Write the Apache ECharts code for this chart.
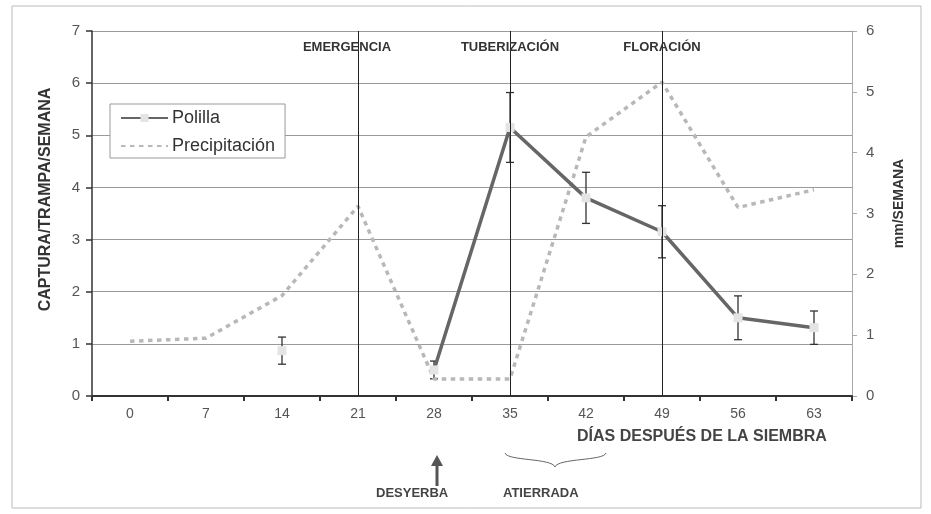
<!DOCTYPE html>
<html>
<head>
<meta charset="utf-8">
<script src="https://cdn.jsdelivr.net/npm/echarts@6/dist/echarts.min.js"></script>
<style>
html,body{margin:0;padding:0;background:#fff;}
#chart{width:931px;height:514px;}
</style>
</head>
<body>
<div id="chart"></div>
<script>
// ---- data ----
const days = ['0', '7', '14', '21', '28', '35', '42', '49', '56', '63'];
const polilla = [null, null, 0.87, null, 0.5, 5.15, 3.8, 3.15, 1.5, 1.31];
const polillaErr = [null, null, 0.26, null, 0.17, 0.67, 0.49, 0.5, 0.42, 0.32];
const precipitacion = [0.9, 0.95, 1.65, 3.12, 0.28, 0.28, 4.26, 5.16, 3.1, 3.39];
const leftTicks = [0, 1, 2, 3, 4, 5, 6, 7];
const rightTicks = [0, 1, 2, 3, 4, 5, 6];
const phases = [
  { day: '21', name: 'EMERGENCIA' },
  { day: '35', name: 'TUBERIZACIÓN' },
  { day: '49', name: 'FLORACIÓN' }
];

const FONT = '"Liberation Sans", Arial, sans-serif';

const errData = [];
polilla.forEach((v, i) => {
  if (v != null && polillaErr[i] != null) errData.push([i, v - polillaErr[i], v + polillaErr[i]]);
});

const chart = echarts.init(document.getElementById('chart'));
chart.setOption({
  animation: false,
  backgroundColor: '#fff',
  textStyle: { fontFamily: FONT },
  grid: { left: 92, right: 79, top: 31, bottom: 118 },
  legend: {
    data: [
      { name: 'Polilla' },
      { name: 'Precipitación', itemStyle: { color: 'rgba(0,0,0,0)', borderWidth: 0 } }
    ],
    orient: 'vertical',
    left: 110, top: 104,
    itemWidth: 47, itemHeight: 10, itemGap: 10,
    padding: [5, 10, 3, 10],
    borderColor: '#999', borderWidth: 1,
    backgroundColor: '#fff',
    textStyle: { fontSize: 18, color: '#333', fontFamily: FONT, padding: [0, 0, 0, -1] }
  },
  xAxis: {
    type: 'category',
    data: days,
    boundaryGap: true,
    axisLine: { lineStyle: { color: '#333', width: 2 } },
    axisTick: { show: true, length: 5, lineStyle: { color: '#333', width: 2 } },
    axisLabel: { color: '#555', fontSize: 14, margin: 11, fontFamily: FONT },
    splitLine: { show: false }
  },
  yAxis: [
    {
      type: 'value', min: 0, max: 7, interval: 1,
      name: 'CAPTURA/TRAMPA/SEMANA', nameLocation: 'middle', nameGap: 38, nameRotate: 90,
      nameTextStyle: { fontSize: 16, fontWeight: 'bold', color: '#333', fontFamily: FONT,
        padding: [0, 0, 0, 28] },
      axisLine: { show: true, lineStyle: { color: '#333', width: 1.5 } },
      axisTick: { show: true, length: 6, lineStyle: { color: '#333', width: 1.5 } },
      axisLabel: { color: '#555', fontSize: 15, margin: 12, fontFamily: FONT,
        formatter: v => leftTicks.includes(v) ? String(v) : '' },
      splitLine: { show: true, lineStyle: { color: '#9a9a9a', width: 1 } }
    },
    {
      type: 'value', min: 0, max: 6, interval: 1, position: 'right',
      name: 'mm/SEMANA', nameLocation: 'middle', nameGap: 40, nameRotate: 90,
      nameTextStyle: { fontSize: 14, fontWeight: 'bold', color: '#333', fontFamily: FONT,
        padding: [0, 0, 0, 20] },
      axisLine: { show: true, lineStyle: { color: '#aaa', width: 1 } },
      axisTick: { show: true, length: 5, lineStyle: { color: '#aaa' } },
      axisLabel: { color: '#555', fontSize: 15, margin: 14, fontFamily: FONT,
        formatter: v => rightTicks.includes(v) ? String(v) : '' },
      splitLine: { show: false }
    }
  ],
  graphic: [
    { type: 'rect', shape: { x: 12, y: 6, width: 909, height: 502 },
      style: { fill: 'none', stroke: '#bbb', lineWidth: 1 }, z: -1 },
    { type: 'text', x: 577, y: 429,
      style: { text: 'DÍAS DESPUÉS DE LA SIEMBRA', font: 'bold 16px ' + FONT, fill: '#444' } },
    { type: 'text', x: 376, y: 487,
      style: { text: 'DESYERBA', font: 'bold 13px ' + FONT, fill: '#444' } },
    { type: 'text', x: 503, y: 487,
      style: { text: 'ATIERRADA', font: 'bold 13px ' + FONT, fill: '#444' } },
    { type: 'line', shape: { x1: 437, y1: 486, x2: 437, y2: 464 },
      style: { stroke: '#555', lineWidth: 3 } },
    { type: 'polygon', shape: { points: [[431, 466], [443, 466], [437, 455]] },
      style: { fill: '#555' } },
    { type: 'bezierCurve',
      shape: { x1: 505, y1: 453, cpx1: 507, cpy1: 461, cpx2: 552, cpy2: 458, x2: 555, y2: 467 },
      style: { fill: 'none', stroke: '#666', lineWidth: 1 } },
    { type: 'bezierCurve',
      shape: { x1: 606, y1: 453, cpx1: 604, cpy1: 461, cpx2: 558, cpy2: 458, x2: 555, y2: 467 },
      style: { fill: 'none', stroke: '#666', lineWidth: 1 } }
  ],
  series: [
    {
      name: 'phases', type: 'line', yAxisIndex: 0, data: days.map(() => null),
      silent: true, symbol: 'none',
      markLine: {
        silent: true, symbol: 'none', animation: false,
        lineStyle: { color: '#222', width: 1, type: 'solid' },
        label: { show: false },
        data: phases.map(p => ({ xAxis: p.day }))
      },
      markPoint: {
        silent: true, symbol: 'rect', symbolSize: 1,
        itemStyle: { color: 'rgba(0,0,0,0)' },
        label: { show: true, position: 'inside', fontSize: 13, fontWeight: 'bold',
          color: '#333', fontFamily: FONT, formatter: p => p.name },
        data: phases.map((p, i) => ({ name: p.name, coord: [p.day, 6.69],
          label: { offset: [i === 0 ? -11 : 0, 0] } }))
      }
    },
    {
      name: 'Precipitación', type: 'line', yAxisIndex: 1, data: precipitacion,
      symbol: 'none',
      itemStyle: { color: '#b8b8b8' },
      lineStyle: { color: '#b8b8b8', width: 3.5, type: [4.5, 4.5] }
    },
    {
      name: 'err', type: 'custom', yAxisIndex: 0, data: errData,
      silent: true,
      renderItem: function (params, api) {
        const x = api.value(0);
        const top = api.coord([x, api.value(2)]);
        const bot = api.coord([x, api.value(1)]);
        const w = 4;
        const st = { stroke: '#333', lineWidth: 1.3 };
        return {
          type: 'group', children: [
            { type: 'line', shape: { x1: top[0], y1: top[1], x2: bot[0], y2: bot[1] }, style: st },
            { type: 'line', shape: { x1: top[0] - w, y1: top[1], x2: top[0] + w, y2: top[1] }, style: st },
            { type: 'line', shape: { x1: bot[0] - w, y1: bot[1], x2: bot[0] + w, y2: bot[1] }, style: st }
          ]
        };
      }
    },
    {
      name: 'Polilla', type: 'line', yAxisIndex: 0, data: polilla,
      connectNulls: false, showSymbol: true, symbol: 'rect', symbolSize: 9,
      itemStyle: { color: '#e4e4e4', borderWidth: 0 },
      lineStyle: { color: '#666', width: 3.5 }
    }
  ]
});
</script>
</body>
</html>
